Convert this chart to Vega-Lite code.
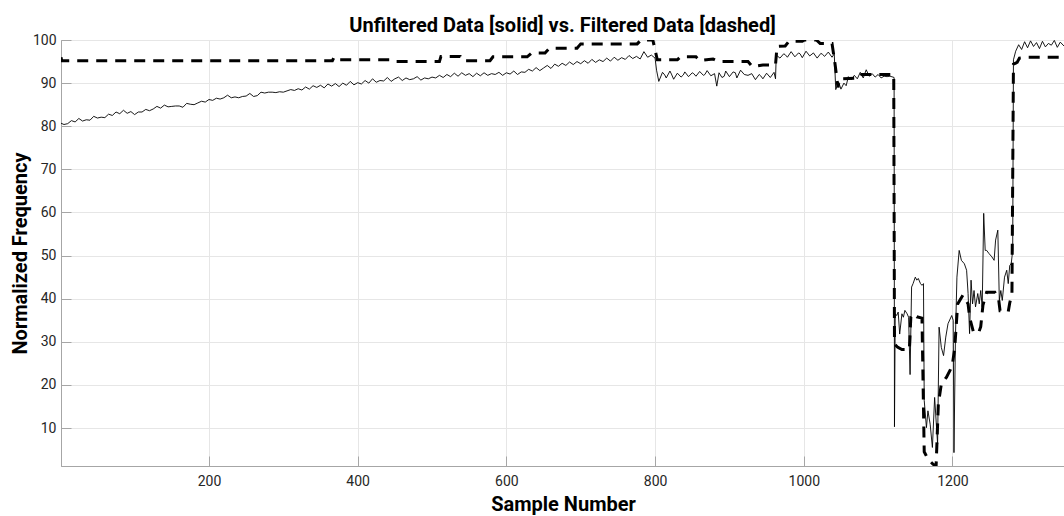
{
  "$schema": "https://vega.github.io/schema/vega-lite/v6.json",
  "autosize": {"type": "none"},
  "width": 1003,
  "height": 426,
  "padding": {"left": 61, "top": 40, "right": 0, "bottom": 50},
  "background": "white",
  "config": {
    "font": "Roboto",
    "view": {"stroke": "#a6a6a6", "strokeWidth": 1},
    "axis": {
      "domainColor": "#a6a6a6",
      "gridColor": "#e6e6e6",
      "gridWidth": 1,
      "tickColor": "#a6a6a6",
      "tickSize": -10,
      "labelFont": "Roboto",
      "labelFontSize": 14,
      "labelColor": "#262626",
      "titleFont": "Roboto",
      "titleFontSize": 20,
      "titleFontWeight": "bold",
      "titleColor": "#000000"
    }
  },
  "title": {
    "text": "Unfiltered Data [solid] vs. Filtered Data [dashed]",
    "font": "Roboto",
    "fontSize": 20,
    "fontWeight": "bold",
    "color": "#000000",
    "anchor": "middle",
    "baseline": "alphabetic",
    "offset": 8,
    "dy": 27
  },
  "datasets": {
    "raw": [
      {"n":1,"v":80.7},{"n":5,"v":80.4},{"n":10,"v":80.6},{"n":15,"v":81.3},{"n":20,"v":81.0},{"n":25,"v":81.8},{"n":30,"v":81.2},{"n":35,"v":81.5},{"n":40,"v":81.4},{"n":45,"v":82.3},{"n":50,"v":81.9},{"n":55,"v":82.1},{"n":60,"v":82.0},{"n":65,"v":82.8},{"n":70,"v":82.5},{"n":75,"v":83.3},{"n":80,"v":82.9},{"n":85,"v":83.7},{"n":90,"v":83.0},{"n":95,"v":83.4},{"n":100,"v":82.7},{"n":105,"v":83.3},{"n":110,"v":83.3},{"n":115,"v":83.9},{"n":120,"v":83.6},{"n":125,"v":84.0},{"n":130,"v":84.6},{"n":135,"v":84.2},{"n":140,"v":84.9},{"n":145,"v":84.5},{"n":150,"v":84.6},{"n":155,"v":84.7},{"n":160,"v":84.7},{"n":165,"v":84.4},{"n":170,"v":85.3},{"n":175,"v":85.1},{"n":180,"v":85.0},{"n":185,"v":85.4},{"n":190,"v":85.8},{"n":195,"v":85.6},{"n":200,"v":86.2},{"n":205,"v":86.0},{"n":210,"v":86.5},{"n":215,"v":86.3},{"n":220,"v":86.6},{"n":225,"v":87.2},{"n":230,"v":86.6},{"n":235,"v":86.8},{"n":240,"v":86.6},{"n":245,"v":86.9},{"n":250,"v":87.0},{"n":255,"v":87.6},{"n":260,"v":86.9},{"n":265,"v":87.1},{"n":270,"v":87.9},{"n":275,"v":87.7},{"n":280,"v":87.9},{"n":285,"v":87.9},{"n":290,"v":87.8},{"n":295,"v":88.0},{"n":300,"v":87.9},{"n":305,"v":88.2},{"n":310,"v":88.5},{"n":315,"v":88.3},{"n":320,"v":88.7},{"n":325,"v":88.4},{"n":330,"v":89.1},{"n":335,"v":88.6},{"n":340,"v":89.4},{"n":345,"v":89.0},{"n":350,"v":89.5},{"n":355,"v":88.9},{"n":360,"v":89.8},{"n":365,"v":89.3},{"n":370,"v":89.9},{"n":375,"v":89.2},{"n":380,"v":90.0},{"n":385,"v":89.5},{"n":390,"v":90.4},{"n":395,"v":89.6},{"n":400,"v":90.1},{"n":405,"v":89.8},{"n":410,"v":90.6},{"n":415,"v":90.0},{"n":420,"v":91.0},{"n":425,"v":90.2},{"n":430,"v":90.6},{"n":435,"v":90.5},{"n":440,"v":91.3},{"n":445,"v":90.4},{"n":450,"v":91.0},{"n":455,"v":91.4},{"n":460,"v":90.6},{"n":465,"v":91.2},{"n":470,"v":90.8},{"n":475,"v":91.0},{"n":480,"v":91.5},{"n":485,"v":90.7},{"n":490,"v":91.2},{"n":495,"v":91.0},{"n":500,"v":91.4},{"n":505,"v":91.2},{"n":510,"v":91.8},{"n":515,"v":91.3},{"n":520,"v":92.0},{"n":525,"v":91.5},{"n":530,"v":92.3},{"n":535,"v":91.6},{"n":540,"v":92.4},{"n":545,"v":91.8},{"n":550,"v":92.2},{"n":555,"v":91.5},{"n":560,"v":92.3},{"n":565,"v":91.7},{"n":570,"v":92.4},{"n":575,"v":91.8},{"n":580,"v":92.2},{"n":585,"v":92.0},{"n":590,"v":92.5},{"n":595,"v":91.8},{"n":600,"v":92.4},{"n":605,"v":92.1},{"n":610,"v":92.8},{"n":615,"v":92.0},{"n":620,"v":92.6},{"n":625,"v":92.5},{"n":630,"v":93.2},{"n":635,"v":92.8},{"n":640,"v":93.6},{"n":645,"v":92.9},{"n":650,"v":93.5},{"n":655,"v":94.1},{"n":660,"v":93.4},{"n":665,"v":94.4},{"n":670,"v":93.9},{"n":675,"v":94.6},{"n":680,"v":94.1},{"n":685,"v":94.9},{"n":690,"v":94.3},{"n":695,"v":95.0},{"n":700,"v":94.5},{"n":705,"v":95.2},{"n":710,"v":94.6},{"n":715,"v":95.5},{"n":720,"v":94.8},{"n":725,"v":95.4},{"n":730,"v":95.0},{"n":735,"v":95.8},{"n":740,"v":95.1},{"n":745,"v":96.0},{"n":750,"v":95.3},{"n":755,"v":95.9},{"n":760,"v":95.5},{"n":765,"v":96.4},{"n":770,"v":95.7},{"n":775,"v":96.2},{"n":780,"v":95.6},{"n":785,"v":97.3},{"n":790,"v":96.0},{"n":795,"v":96.5},{"n":800,"v":95.8},
      {"n":802,"v":93.0},{"n":805,"v":90.4},{"n":810,"v":92.5},{"n":813,"v":91.9},{"n":815,"v":91.2},{"n":820,"v":92.8},{"n":822,"v":92.1},{"n":825,"v":90.9},{"n":830,"v":92.3},{"n":835,"v":91.4},{"n":838,"v":91.9},{"n":840,"v":92.6},{"n":845,"v":91.5},{"n":850,"v":92.4},{"n":852,"v":92.2},{"n":855,"v":91.6},{"n":860,"v":92.7},{"n":865,"v":91.8},{"n":867,"v":92.0},{"n":870,"v":92.9},{"n":875,"v":91.7},{"n":880,"v":92.2},{"n":883,"v":89.3},{"n":886,"v":92.4},{"n":890,"v":91.3},{"n":893,"v":91.6},{"n":895,"v":92.8},{"n":900,"v":91.5},{"n":905,"v":92.6},{"n":908,"v":92.4},{"n":910,"v":91.2},{"n":915,"v":93.0},{"n":920,"v":92.0},{"n":925,"v":91.8},{"n":930,"v":92.2},{"n":935,"v":90.8},{"n":940,"v":92.0},{"n":942,"v":91.7},{"n":945,"v":91.0},{"n":950,"v":92.3},{"n":955,"v":91.3},{"n":960,"v":92.5},{"n":962,"v":91.0},
      {"n":963,"v":96.5},{"n":968,"v":95.8},{"n":973,"v":96.8},{"n":975,"v":96.6},{"n":978,"v":96.0},{"n":983,"v":97.3},{"n":988,"v":96.1},{"n":993,"v":97.0},{"n":995,"v":96.8},{"n":998,"v":95.9},{"n":1003,"v":97.4},{"n":1008,"v":96.3},{"n":1013,"v":97.0},{"n":1018,"v":95.8},{"n":1023,"v":96.9},{"n":1025,"v":96.7},{"n":1028,"v":96.2},{"n":1033,"v":97.2},{"n":1038,"v":96.0},{"n":1041,"v":96.8},
      {"n":1043,"v":88.5},{"n":1047,"v":90.2},{"n":1050,"v":88.6},{"n":1054,"v":90.0},{"n":1057,"v":89.4},{"n":1060,"v":91.5},{"n":1064,"v":90.8},{"n":1068,"v":91.8},{"n":1072,"v":91.0},{"n":1076,"v":92.5},{"n":1080,"v":91.2},{"n":1084,"v":93.1},{"n":1088,"v":91.6},{"n":1092,"v":92.2},{"n":1096,"v":91.4},{"n":1100,"v":92.0},{"n":1104,"v":91.2},{"n":1108,"v":91.6},{"n":1112,"v":91.5},{"n":1116,"v":91.6},{"n":1120,"v":91.4},{"n":1121.5,"v":91.3},
      {"n":1122,"v":10.3},{"n":1123,"v":36.5},{"n":1125,"v":36.1},{"n":1127,"v":36.9},{"n":1129,"v":31.8},{"n":1132,"v":36.5},{"n":1134,"v":35.7},{"n":1136,"v":37.3},{"n":1139,"v":36.5},{"n":1141,"v":35.7},{"n":1143,"v":22.4},{"n":1145,"v":42.7},{"n":1147,"v":43.5},{"n":1150,"v":45.0},{"n":1152,"v":44.3},{"n":1154,"v":44.7},{"n":1157,"v":43.5},{"n":1159,"v":43.1},{"n":1161,"v":43.5},{"n":1162,"v":16.4},{"n":1165,"v":10.1},{"n":1167,"v":14.0},{"n":1170,"v":10.9},{"n":1173,"v":5.5},{"n":1176,"v":17.1},{"n":1180,"v":6.3},{"n":1182,"v":33.4},{"n":1185,"v":28.7},{"n":1188,"v":26.8},{"n":1191,"v":31.1},{"n":1194,"v":34.2},{"n":1199,"v":36.1},{"n":1201,"v":35.0},{"n":1202,"v":4.3},{"n":1204,"v":31.1},{"n":1206,"v":45.0},{"n":1209,"v":51.2},{"n":1212,"v":48.9},{"n":1216,"v":48.1},{"n":1219,"v":46.6},{"n":1221,"v":41.2},{"n":1223,"v":31.9},{"n":1225,"v":44.3},{"n":1227,"v":38.8},{"n":1229,"v":41.9},{"n":1231,"v":38.1},{"n":1234,"v":41.2},{"n":1236,"v":38.8},{"n":1238,"v":41.9},{"n":1240,"v":38.1},{"n":1242,"v":59.8},{"n":1244,"v":51.2},{"n":1246,"v":51.2},{"n":1249,"v":50.5},{"n":1253,"v":49.7},{"n":1256,"v":48.9},{"n":1258,"v":53.6},{"n":1261,"v":55.9},{"n":1263,"v":39.6},{"n":1265,"v":41.9},{"n":1267,"v":39.6},{"n":1270,"v":45.0},{"n":1273,"v":46.6},{"n":1275,"v":43.5},{"n":1277,"v":47.7},{"n":1279,"v":48.1},{"n":1281,"v":51.2},
      {"n":1282,"v":95.4},{"n":1285,"v":97.4},{"n":1289,"v":98.9},{"n":1293,"v":97.8},{"n":1297,"v":99.6},{"n":1301,"v":98.2},{"n":1305,"v":99.8},{"n":1309,"v":98.5},{"n":1313,"v":99.4},{"n":1317,"v":98.0},{"n":1321,"v":99.7},{"n":1325,"v":98.4},{"n":1329,"v":99.2},{"n":1333,"v":98.8},{"n":1337,"v":99.9},{"n":1341,"v":98.3},{"n":1345,"v":99.5},{"n":1350,"v":98.6}
    ],
    "filt": [
      {"n":1,"v":96.0},{"n":2,"v":95.2},{"n":366,"v":95.2},{"n":368,"v":95.9},{"n":370,"v":95.4},{"n":445,"v":95.4},{"n":448,"v":95.0},{"n":510,"v":95.0},{"n":512,"v":96.2},{"n":538,"v":96.2},{"n":541,"v":95.2},{"n":578,"v":95.2},{"n":582,"v":96.1},{"n":628,"v":96.1},{"n":634,"v":97.0},{"n":652,"v":97.0},{"n":658,"v":98.1},{"n":695,"v":98.1},{"n":700,"v":99.1},{"n":776,"v":99.1},{"n":781,"v":100.0},{"n":797,"v":100.0},{"n":803,"v":95.4},{"n":830,"v":95.4},{"n":834,"v":96.1},{"n":855,"v":96.1},{"n":860,"v":95.2},{"n":878,"v":95.6},{"n":885,"v":95.0},{"n":925,"v":95.0},{"n":931,"v":93.8},{"n":945,"v":94.2},{"n":962,"v":94.2},{"n":964,"v":98.5},{"n":975,"v":98.6},{"n":980,"v":99.7},{"n":998,"v":99.7},{"n":1001,"v":100.0},{"n":1017,"v":100.0},{"n":1022,"v":99.2},{"n":1038,"v":99.2},{"n":1042,"v":94.5},{"n":1046,"v":89.0},{"n":1048,"v":91.0},{"n":1075,"v":91.2},{"n":1078,"v":92.0},{"n":1121,"v":92.0},
      {"n":1122,"v":29.5},{"n":1126,"v":28.8},{"n":1132,"v":28.2},{"n":1142,"v":28.2},{"n":1144,"v":35.8},{"n":1146,"v":36.5},{"n":1152,"v":35.8},{"n":1159,"v":35.5},{"n":1162,"v":4.5},{"n":1167,"v":2.8},{"n":1174,"v":1.6},{"n":1178,"v":1.2},{"n":1181,"v":15.6},{"n":1185,"v":20.2},{"n":1192,"v":21.8},{"n":1197,"v":23.5},{"n":1200,"v":24.9},{"n":1203,"v":28.5},{"n":1207,"v":38.8},{"n":1214,"v":40.8},{"n":1221,"v":38.8},{"n":1223,"v":35.7},{"n":1228,"v":32.4},{"n":1235,"v":32.0},{"n":1238,"v":33.5},{"n":1241,"v":38.5},{"n":1246,"v":41.5},{"n":1257,"v":41.5},{"n":1262,"v":40.0},{"n":1264,"v":37.2},{"n":1275,"v":37.0},{"n":1277,"v":39.0},{"n":1280,"v":41.2},
      {"n":1282,"v":94.4},{"n":1287,"v":94.8},{"n":1290,"v":95.8},{"n":1300,"v":96.0},{"n":1345,"v":96.0},{"n":1350,"v":95.6}
    ]
  },
  "encoding": {
    "x": {
      "field": "n",
      "type": "quantitative",
      "scale": {"domain": [1, 1350], "nice": false, "zero": false},
      "axis": {
        "title": "Sample Number",
        "values": [200, 400, 600, 800, 1000, 1200],
        "format": "d",
        "labelPadding": 18,
        "titleY": 44,
        "titleX": 502,
        "titleBaseline": "alphabetic",
        "titleAnchor": "middle"
      }
    },
    "y": {
      "field": "v",
      "type": "quantitative",
      "scale": {"domain": [1.2, 100], "nice": false, "zero": false},
      "axis": {
        "title": "Normalized Frequency",
        "values": [10, 20, 30, 40, 50, 60, 70, 80, 90, 100],
        "format": "d",
        "labelPadding": 15,
        "titleX": -35,
        "titleY": 213,
        "titleBaseline": "alphabetic",
        "titleAngle": -90,
        "titleAnchor": "middle"
      }
    }
  },
  "layer": [
    {
      "data": {"name": "raw"},
      "mark": {"type": "line", "color": "#000000", "strokeWidth": 0.9, "clip": true}
    },
    {
      "data": {"name": "filt"},
      "mark": {"type": "line", "color": "#000000", "strokeWidth": 3, "strokeDash": [11, 8], "strokeCap": "butt", "clip": true}
    }
  ]
}
